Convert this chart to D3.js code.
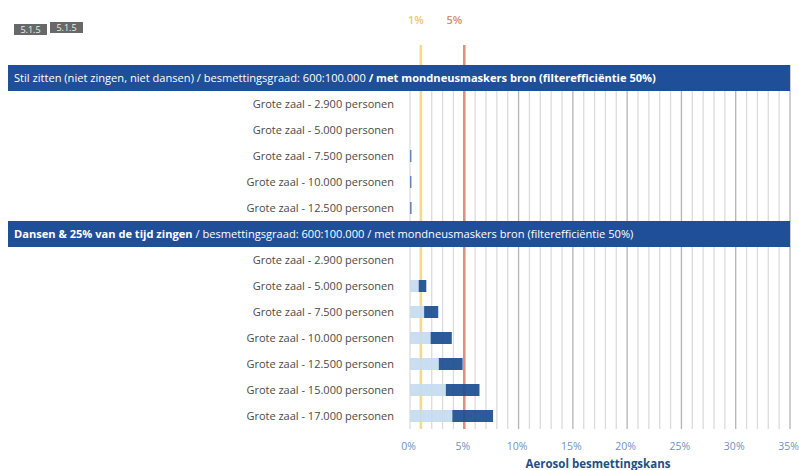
<!DOCTYPE html>
<html><head><meta charset="utf-8">
<script src="https://cdn.jsdelivr.net/npm/d3@7"></script>
<style>body{margin:0;background:#fff}svg{display:block}</style>
</head><body>
<script>
const section1Title = ["Stil zitten (niet zingen, niet dansen) / besmettingsgraad: 600:100.000 ", " / met mondneusmaskers bron (filterefficiëntie 50%)"];
const section2Title = ["Dansen & 25% van de tijd zingen", " / besmettingsgraad: 600:100.000  / met mondneusmaskers bron (filterefficiëntie 50%)"];
const categories1 = ["Grote zaal - 2.900 personen","Grote zaal - 5.000 personen","Grote zaal - 7.500 personen","Grote zaal - 10.000 personen","Grote zaal - 12.500 personen"];
const light1 = [0, 0, 0.03, 0.03, 0.03];
const dark1 = [0, 0, 0.09, 0.08, 0.1];
const categories2 = ["Grote zaal - 2.900 personen","Grote zaal - 5.000 personen","Grote zaal - 7.500 personen","Grote zaal - 10.000 personen","Grote zaal - 12.500 personen","Grote zaal - 15.000 personen","Grote zaal - 17.000 personen"];
const light2 = [0, 0.8, 1.3, 1.9, 2.65, 3.3, 3.9];
const dark2 = [0, 0.7, 1.3, 1.95, 2.2, 3.1, 3.75];
const xTicks = [0, 5, 10, 15, 20, 25, 30, 35];
const refLines = [{v:1, label:"1%"}, {v:5, label:"5%"}];
const badges = ["5.1.5", "5.1.5"];

const W = 799, H = 470;
const svg = d3.select("body").append("svg").attr("width", W).attr("height", H)
  .style("font-family", "'Open Sans', sans-serif");

const rows = [];
rows.push({type:"h", key:"h1", title:section1Title, boldFirst:false});
categories1.forEach((c,i)=>rows.push({type:"r", key:"a"+i, label:c, light:light1[i], dark:dark1[i]}));
rows.push({type:"h", key:"h2", title:section2Title, boldFirst:true});
categories2.forEach((c,i)=>rows.push({type:"r", key:"b"+i, label:c, light:light2[i], dark:dark2[i]}));

const x = d3.scaleLinear().domain([0, 35]).range([410, 790]);
const y = d3.scaleBand().domain(rows.map(r=>r.key)).range([65, 65 + 26*rows.length]).padding(0);
const yTop = 65, yBot = 65 + 26*rows.length;

// gridlines every 1%
const gridVals = d3.range(0, 36, 1);
svg.append("g").selectAll("line").data(gridVals).join("line")
  .attr("x1", d=>x(d)).attr("x2", d=>x(d))
  .attr("y1", yTop).attr("y2", yBot)
  .attr("stroke", d => (d>=10 && d%5===0) ? "#b4b4b4" : "#dcdcdc")
  .attr("stroke-width", 1.3);

// reference lines
const refColors = {1:"#f6d98e", 5:"#e0907c"};
const refText = {1:"#f2c66f", 5:"#d98a70"};
const refLabelDx = {1:-5, 5:-10};
svg.append("g").selectAll("line").data(refLines).join("line")
  .attr("x1", d=>x(d.v)).attr("x2", d=>x(d.v))
  .attr("y1", 45).attr("y2", yBot)
  .attr("stroke", d=>refColors[d.v]).attr("stroke-width", 2.6);
svg.append("g").selectAll("text").data(refLines).join("text")
  .attr("x", d=>x(d.v) + refLabelDx[d.v]).attr("y", 24)
  .attr("text-anchor", "middle").attr("font-size", 11).attr("font-weight", 600)
  .attr("fill", d=>refText[d.v]).text(d=>d.label);

// bars
const barH = 12;
const dataRows = rows.filter(r=>r.type==="r");
const bars = svg.append("g");
bars.selectAll("rect.l").data(dataRows.filter(r=>r.light>0)).join("rect").attr("class","l")
  .attr("x", x(0)).attr("y", r=>y(r.key)+y.bandwidth()/2 - barH/2)
  .attr("width", r=>x(r.light)-x(0)).attr("height", barH)
  .attr("fill", "#c4daf0").attr("fill-opacity", 0.9);
bars.selectAll("rect.d").data(dataRows.filter(r=>r.dark>0)).join("rect").attr("class","d")
  .attr("x", r=>x(r.light)).attr("y", r=>y(r.key)+y.bandwidth()/2 - barH/2)
  .attr("width", r=>Math.max(1, x(r.light+r.dark)-x(r.light))).attr("height", barH)
  .attr("fill", "#1d4f91").attr("fill-opacity", 0.93);

// category labels
svg.append("g").selectAll("text").data(dataRows).join("text")
  .attr("x", 394).attr("y", r=>y(r.key)+y.bandwidth()/2 + 4)
  .attr("text-anchor", "end").attr("font-size", 11).attr("fill", "#4a4a4a")
  .text(r=>r.label);

// headers
const headers = rows.filter(r=>r.type==="h");
const hg = svg.append("g").selectAll("g").data(headers).join("g");
hg.append("rect").attr("x", 8).attr("y", r=>y(r.key)).attr("width", 782).attr("height", y.bandwidth())
  .attr("fill", "#1f4f99");
const ht = hg.append("text").attr("x", 14).attr("y", r=>y(r.key)+y.bandwidth()/2+4)
  .attr("font-size", 11.1).attr("fill", "#fff");
ht.append("tspan").attr("font-weight", r=>r.boldFirst?700:400).text(r=>r.title[0]);
ht.append("tspan").attr("font-weight", r=>r.boldFirst?400:700).text(r=>r.title[1]);

// axis
const axis = d3.axisBottom(x).tickValues(xTicks).tickFormat(d=>d+"%").tickSize(0).tickPadding(0);
const ag = svg.append("g").attr("transform", `translate(-2,${443})`).call(axis);
ag.select(".domain").remove();
ag.selectAll("text").attr("font-size", 10.5).attr("fill", "#7391bf").attr("font-family", "'Open Sans', sans-serif");
svg.append("text").attr("x", (x(0)+x(35))/2 - 2).attr("y", 468).attr("text-anchor", "middle")
  .attr("font-size", 11.5).attr("font-weight", 700).attr("fill", "#234f80").text("Aerosol besmettingskans");

// badges
const bx = [14, 50], by = [24, 22];
const bg = svg.append("g").selectAll("g").data(badges).join("g");
bg.append("rect").attr("x", (d,i)=>bx[i]).attr("y", (d,i)=>by[i]).attr("width", 33).attr("height", 11).attr("fill", "#686868");
bg.append("text").attr("x", (d,i)=>bx[i]+16.5).attr("y", (d,i)=>by[i]+9).attr("text-anchor","middle")
  .attr("font-size", 9).attr("fill", "#eee").text(d=>d);
</script>
</body></html>
